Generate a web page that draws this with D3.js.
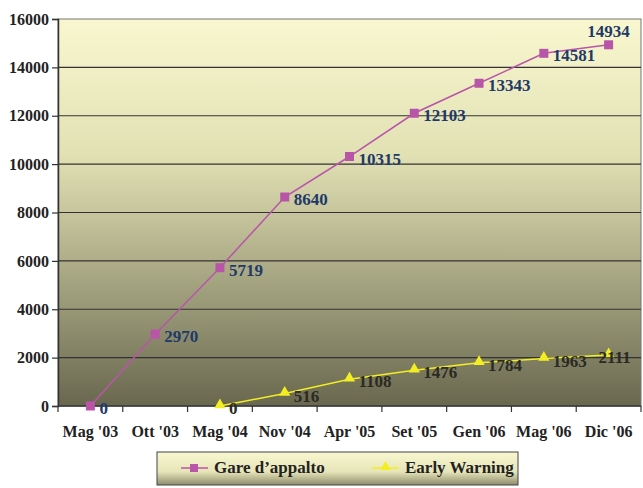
<!DOCTYPE html>
<html>
<head>
<meta charset="utf-8">
<script src="https://cdn.jsdelivr.net/npm/d3@7"></script>
<style>
  body { margin: 0; background: #fff; }
</style>
</head>
<body>
<svg id="chart" width="643" height="488" font-family="'Liberation Serif', 'DejaVu Serif', serif" font-weight="bold"></svg>
<script>
var categories = ["Mag '03", "Ott '03", "Mag '04", "Nov '04", "Apr '05", "Set '05", "Gen '06", "Mag '06", "Dic '06"];
var gareValues = [0, 2970, 5719, 8640, 10315, 12103, 13343, 14581, 14934];
var earlyValues = [null, null, 0, 516, 1108, 1476, 1784, 1963, 2111];
var yTicks = [0, 2000, 4000, 6000, 8000, 10000, 12000, 14000, 16000];

var FONT = "Liberation Serif, DejaVu Serif, serif";
var svg = d3.select("#chart");
var margin = {left: 58, right: 2, top: 19, bottom: 82};
var width = 643 - margin.left - margin.right;
var height = 488 - margin.top - margin.bottom;

var defs = svg.append("defs");
var bg = defs.append("linearGradient").attr("id", "bg").attr("x1", 0).attr("y1", 0).attr("x2", 0).attr("y2", 1);
bg.append("stop").attr("offset", "0%").attr("stop-color", "#f9f7cf");
bg.append("stop").attr("offset", "35%").attr("stop-color", "#e2e1b4");
bg.append("stop").attr("offset", "100%").attr("stop-color", "#69684f");
var lg = defs.append("linearGradient").attr("id", "lg").attr("x1", 0).attr("y1", 0).attr("x2", 0).attr("y2", 1);
lg.append("stop").attr("offset", "0%").attr("stop-color", "#f9f7cf");
lg.append("stop").attr("offset", "60%").attr("stop-color", "#e6e4b8");
lg.append("stop").attr("offset", "100%").attr("stop-color", "#8e8c6c");

var g = svg.append("g").attr("transform", "translate(" + margin.left + "," + margin.top + ")");

var x = d3.scaleBand().domain(categories).range([0, width]);
var y = d3.scaleLinear().domain([0, 16000]).range([height, 0]);

// plot background
g.append("rect")
    .attr("width", width)
    .attr("height", height)
    .attr("fill", "url(#bg)")
    .attr("stroke", "#777")
    .attr("stroke-width", 1);

// gridlines
g.selectAll(".grid").data(yTicks.slice(1, -1)).enter().append("line")
    .attr("x1", 0).attr("x2", width)
    .attr("y1", function(d) { return y(d); })
    .attr("y2", function(d) { return y(d); })
    .attr("stroke", "#333")
    .attr("stroke-width", 1.2);

// y axis
var yAxis = g.append("g")
    .call(d3.axisLeft(y).tickValues(yTicks).tickSize(6).tickPadding(3).tickFormat(d3.format("d")))
    .attr("font-family", FONT)
    .attr("font-size", 16);
yAxis.select(".domain").attr("stroke", "#333").attr("stroke-width", 1.5);
yAxis.selectAll(".tick line").attr("stroke", "#333").attr("stroke-width", 1.2);
yAxis.selectAll("text").attr("fill", "#222").attr("font-weight", "bold");

// x axis ticks at category boundaries
var xAxisG = g.append("g").attr("transform", "translate(0," + height + ")");
xAxisG.append("line").attr("x1", 0).attr("x2", width).attr("stroke", "#333").attr("stroke-width", 1.5);
var bounds = categories.map(function(c) { return x(c); }).concat([width]);
xAxisG.selectAll(".xt").data(bounds).enter().append("line")
    .attr("x1", function(d) { return d; }).attr("x2", function(d) { return d; })
    .attr("y1", 0).attr("y2", 6)
    .attr("stroke", "#333").attr("stroke-width", 1.2);
xAxisG.selectAll(".xl").data(categories).enter().append("text")
    .attr("x", function(d) { return x(d) + x.bandwidth() / 2; })
    .attr("y", 31)
    .attr("text-anchor", "middle")
    .attr("font-family", FONT)
    .attr("font-size", 16)
    .attr("fill", "#222")
    .text(function(d) { return d; });

function cx(i) { return x(categories[i]) + x.bandwidth() / 2; }

var line = d3.line()
    .defined(function(d) { return d != null; })
    .x(function(d, i) { return cx(i); })
    .y(function(d) { return y(d); });

// Gare d'appalto
g.append("path").datum(gareValues)
    .attr("d", line).attr("fill", "none")
    .attr("stroke", "#b955a9").attr("stroke-width", 1.5);
g.selectAll(".gm").data(gareValues).enter().append("rect")
    .attr("x", function(d, i) { return cx(i) - 4.5; })
    .attr("y", function(d) { return y(d) - 4.5; })
    .attr("width", 9).attr("height", 9)
    .attr("fill", "#b955a9");
g.selectAll(".gl").data(gareValues).enter().append("text")
    .attr("x", function(d, i) { return i === gareValues.length - 1 ? cx(i) : cx(i) + 9; })
    .attr("y", function(d, i) { return i === gareValues.length - 1 ? y(d) - 8 : y(d) + 8; })
    .attr("text-anchor", function(d, i) { return i === gareValues.length - 1 ? "middle" : "start"; })
    .attr("font-family", FONT)
    .attr("font-size", 17)
    .attr("fill", "#1f3a68")
    .text(function(d) { return d; });

// Early Warning
var tri = d3.symbol().type(d3.symbolTriangle).size(55);
g.append("path").datum(earlyValues)
    .attr("d", line).attr("fill", "none")
    .attr("stroke", "#f2ee22").attr("stroke-width", 1.5);
var earlyPts = earlyValues.map(function(d, i) { return {v: d, i: i}; }).filter(function(p) { return p.v != null; });
g.selectAll(".em").data(earlyPts).enter().append("path")
    .attr("d", tri)
    .attr("transform", function(p) { return "translate(" + cx(p.i) + "," + (y(p.v) - 1) + ")"; })
    .attr("fill", "#f2ee22");
g.selectAll(".el").data(earlyPts).enter().append("text")
    .attr("x", function(p) { return p.i === earlyValues.length - 1 ? cx(p.i) - 10 : cx(p.i) + 9; })
    .attr("y", function(p) { return y(p.v) + 8; })
    .attr("font-family", FONT)
    .attr("font-size", 17)
    .attr("fill", "#2a2a22")
    .text(function(p) { return p.v; });

// legend
var leg = svg.append("g").attr("transform", "translate(157,452)");
leg.append("rect").attr("width", 361).attr("height", 33)
    .attr("fill", "url(#lg)").attr("stroke", "#444").attr("stroke-width", 1);
var items = [
    {name: "Gare d\u2019appalto", color: "#b955a9", shape: "square", x: 24},
    {name: "Early Warning", color: "#f2ee22", shape: "triangle", x: 215}
];
items.forEach(function(it) {
    var ig = leg.append("g").attr("transform", "translate(" + it.x + ",16)");
    ig.append("line").attr("x1", 0).attr("x2", 27).attr("stroke", it.color).attr("stroke-width", 1.5);
    if (it.shape === "square") {
        ig.append("rect").attr("x", 9).attr("y", -4).attr("width", 8).attr("height", 8).attr("fill", it.color);
    } else {
        ig.append("path").attr("d", d3.symbol().type(d3.symbolTriangle).size(45)).attr("transform", "translate(13.5,-1)").attr("fill", it.color);
    }
    ig.append("text").attr("x", 33).attr("y", 5).attr("font-family", FONT).attr("font-size", 17).attr("fill", "#222").text(it.name);
});
</script>
</body>
</html>
